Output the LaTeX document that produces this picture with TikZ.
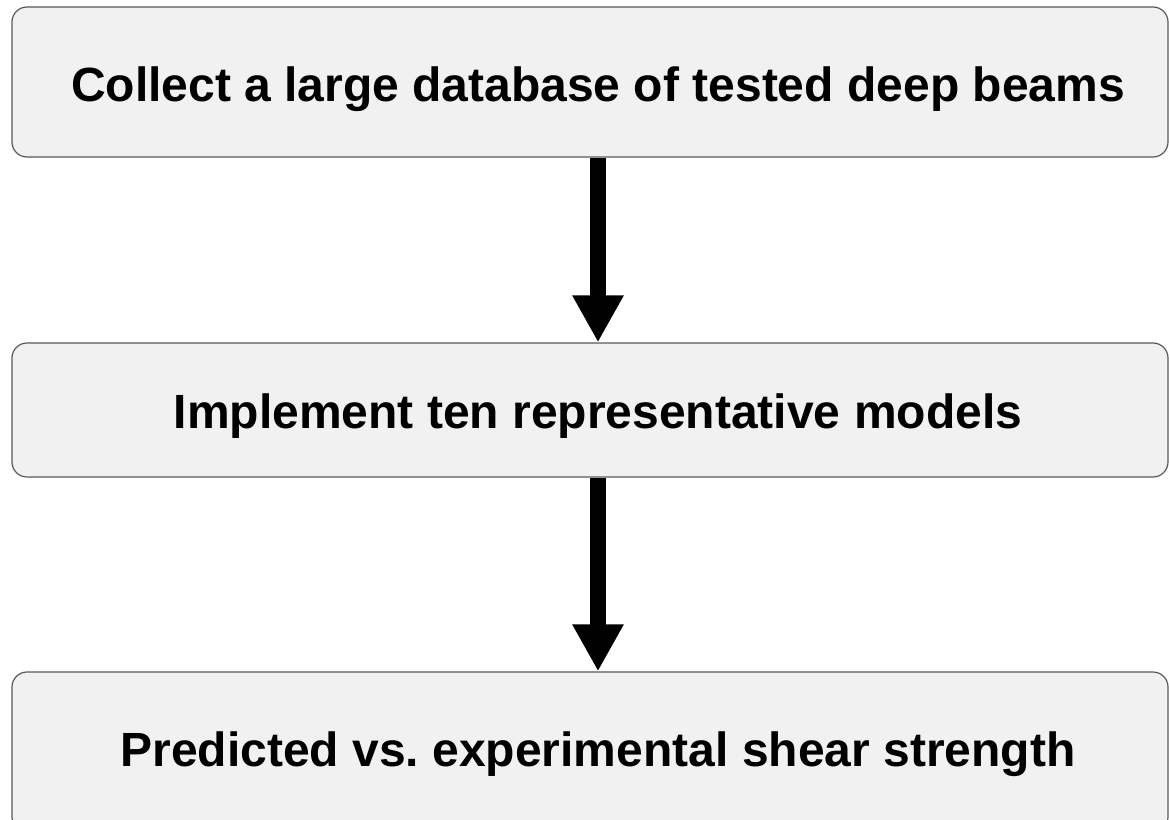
\documentclass[tikz,border=0pt]{standalone}
\usepackage{fontspec}
\setmainfont{Liberation Sans}
\usetikzlibrary{arrows.meta,positioning}
\begin{document}
\frenchspacing
\begin{tikzpicture}[x=1pt,y=-1pt,
  box/.style={draw=black!65,line width=1.2pt,fill=black!5.5,rounded corners=15pt,inner sep=0pt},
  lbl/.style={inner sep=0pt,anchor=base,font=\fontsize{48}{58}\selectfont\bfseries},
  flow/.style={line width=16pt,-{Triangle[width=48pt,length=47pt]}}]
\useasboundingbox (0,0) rectangle (1169,819);
\clip (0,0) rectangle (1169,819);
\node[box,minimum width=1156pt,minimum height=150pt] (b1) at (590,82) {};
\node[box,minimum width=1156pt,minimum height=134pt] (b2) at (590,410) {};
\node[box,minimum width=1156pt,minimum height=160pt] (b3) at (590,752) {};
\node[lbl] (t1) at (598,101) {Collect a large database of tested deep beams};
\node[lbl] (t2) at (598,428) {Implement ten representative models};
\node[lbl] (t3) at (598,766) {Predicted vs.\ experimental shear strength};
\coordinate (ax) at (598,0);
\draw[flow] (b1.south -| ax) -- (b2.north -| ax);
\draw[flow] (b2.south -| ax) -- (b3.north -| ax);
\end{tikzpicture}
\end{document}
